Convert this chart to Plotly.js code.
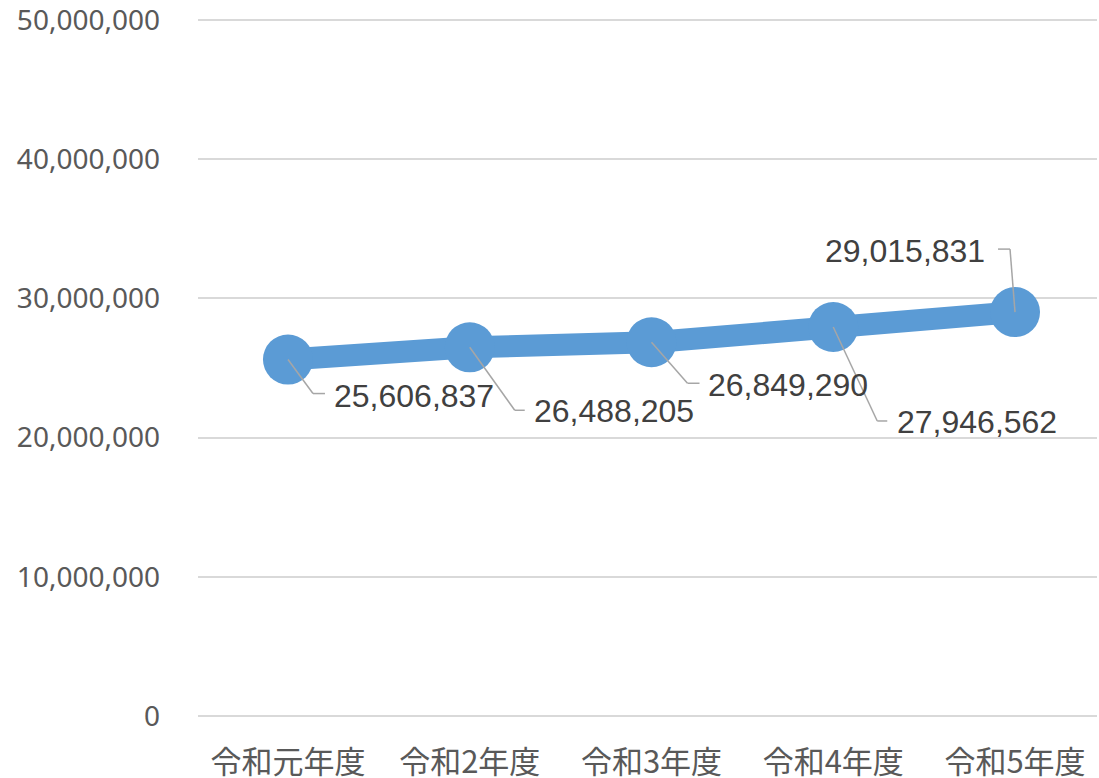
<!DOCTYPE html>
<html>
<head>
<meta charset="utf-8">
<script src="https://cdn.plot.ly/plotly-3.0.1.min.js"></script>
<style>html,body{margin:0;padding:0;background:#fff;}#chart{width:1099px;height:778px;}</style>
</head>
<body>
<div id="chart"></div>
<script>
const categories = ["令和元年度", "令和2年度", "令和3年度", "令和4年度", "令和5年度"];
const values = [25606837, 26488205, 26849290, 27946562, 29015831];
const yTickVals = [0, 10000000, 20000000, 30000000, 40000000, 50000000];

// label placement (screen pixel offsets from the point: dx right, dy down)
const labelLayout = [
  {elbow: [25, 34], end: [37, 34], text: [44, 36], side: 'left'},
  {elbow: [45, 63], end: [55, 63], text: [62, 64], side: 'left'},
  {elbow: [36, 41], end: [48, 41], text: [54, 43], side: 'left'},
  {elbow: [44, 94], end: [54, 94], text: [62, 95], side: 'left'},
  {elbow: [-5, -63], end: [-17, -63], text: [-28, -61], side: 'right'}
];

const shapes = [];
const annotations = [];
values.forEach((v, i) => {
  const L = labelLayout[i];
  const base = {type: 'line', xref: 'x', yref: 'y', xsizemode: 'pixel', ysizemode: 'pixel',
    xanchor: categories[i], yanchor: v, line: {color: '#A6A6A6', width: 1.5}};
  shapes.push(Object.assign({}, base, {x0: 0, y0: 0, x1: L.elbow[0], y1: -L.elbow[1]}));
  shapes.push(Object.assign({}, base, {x0: L.elbow[0], y0: -L.elbow[1], x1: L.end[0], y1: -L.end[1]}));
  annotations.push({
    x: categories[i], y: v, xref: 'x', yref: 'y',
    text: v.toLocaleString('en-US'), showarrow: false,
    xanchor: L.side, yanchor: 'middle',
    xshift: L.text[0], yshift: -L.text[1],
    font: {family: 'Liberation Sans, Arial, sans-serif', size: 32, color: '#404040'}
  });
});

const trace = {
  x: categories, y: values, type: 'scatter', mode: 'lines+markers',
  line: {color: '#5B9BD5', width: 22},
  marker: {color: '#5B9BD5', size: 50},
  hoverinfo: 'skip'
};

const layout = {
  width: 1099, height: 778,
  margin: {l: 198, r: 2, t: 18, b: 62},
  paper_bgcolor: '#ffffff', plot_bgcolor: '#ffffff',
  showlegend: false,
  xaxis: {
    type: 'category', range: [-0.495, 4.451], autorange: false,
    showgrid: false, zeroline: false,
    showline: false, ticks: '',
    tickfont: {family: 'Noto Sans CJK JP', size: 31, color: '#595959'},
    ticklabelstandoff: 25
  },
  yaxis: {
    range: [0, 50143678], autorange: false, tickvals: yTickVals,
    ticktext: yTickVals.map(t => t.toLocaleString('en-US')),
    showgrid: true, gridcolor: '#D9D9D9', gridwidth: 2,
    zeroline: true, zerolinecolor: '#D9D9D9', zerolinewidth: 2,
    showline: false, ticks: '',
    tickfont: {family: 'Noto Sans', size: 28, color: '#595959'},
    ticklabelstandoff: 37,
    ticklabeloverflow: 'allow'
  },
  shapes: shapes,
  annotations: annotations
};

Plotly.newPlot('chart', [trace], layout, {displayModeBar: false, staticPlot: true});
</script>
</body>
</html>
